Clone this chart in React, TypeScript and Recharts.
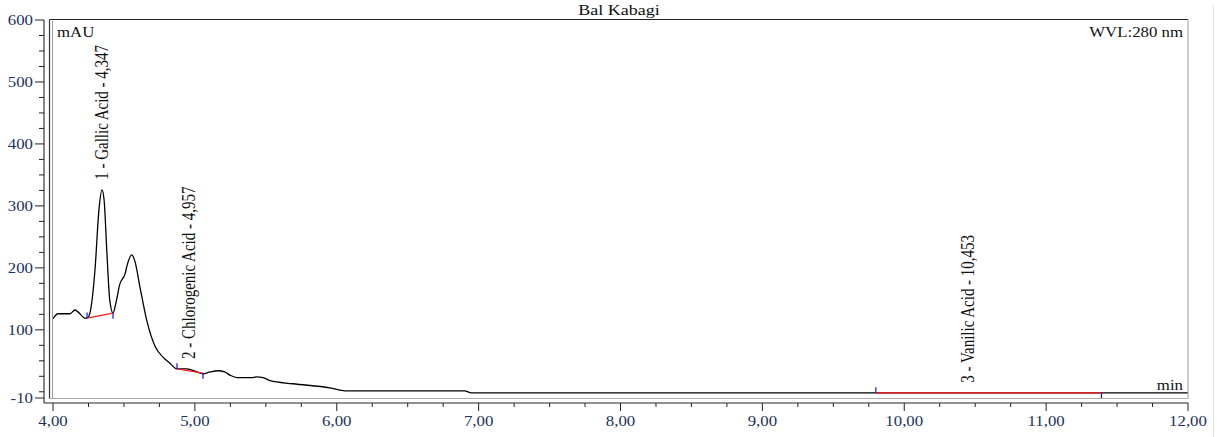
import React from 'react';
import { ComposedChart, Line, Scatter, XAxis, YAxis, ReferenceLine } from 'recharts';

// Chromatogram trace (time in min, absorbance in mAU)
const traceTime = [4.0, 4.035, 4.12, 4.155, 4.176, 4.225, 4.24, 4.26, 4.296, 4.324, 4.345, 4.36, 4.38, 4.4, 4.423, 4.444, 4.47, 4.51, 4.52, 4.556, 4.578, 4.613, 4.66, 4.72, 4.775, 4.82, 4.874, 4.944, 5.015, 5.057, 5.106, 5.163, 5.21, 5.247, 5.297, 5.41, 5.437, 5.48, 5.53, 5.69, 5.952, 6.06, 6.9, 6.95, 12.0];
const traceMAU = [118, 126, 126, 132, 129, 119, 119, 127, 197, 294, 326, 310, 224, 148, 127, 144, 173, 192, 202, 221, 210, 169, 116, 73, 56, 47, 37, 37, 32, 29, 32, 34, 32, 27, 23, 23, 24, 23, 18, 13, 6.5, 1.6, 1.6, -1.6, -1.6];

// Peak labels
const peakNames = ['1 - Gallic Acid - 4,347', '2 - Chlorogenic Acid - 4,957', '3 - Vanilic Acid - 10,453'];
const peakTimes = [4.347, 4.957, 10.453];
const peakHeights = [326, 37, -1.6];

// Integration baselines
const baseStartT = [4.24, 4.874, 9.8];
const baseStartV = [119, 37, -1.6];
const baseEndT = [4.423, 5.057, 11.39];
const baseEndV = [127, 30, -1.6];
const markLen = 9;

// Axis ticks
const xTicks = [4, 4.25, 4.5, 4.75, 5, 5.25, 5.5, 5.75, 6, 6.25, 6.5, 6.75, 7, 7.25, 7.5, 7.75, 8, 8.25, 8.5, 8.75, 9, 9.25, 9.5, 9.75, 10, 10.25, 10.5, 10.75, 11, 11.25, 11.5, 11.75, 12];
const yTicks = [-10, 0, 25, 50, 75, 100, 125, 150, 175, 200, 225, 250, 275, 300, 325, 350, 375, 400, 425, 450, 475, 500, 525, 550, 575, 600];
const yLabelled = [-10, 100, 200, 300, 400, 500, 600];

const traceData = traceTime.map((t, i) => ({ t, v: traceMAU[i] }));
const peakData = peakTimes.map((t, i) => ({ t, v: peakHeights[i], name: peakNames[i] }));
const baselineData = baseStartT.map((t, i) => [
  { t, v: baseStartV[i] },
  { t: baseEndT[i], v: baseEndV[i] },
]);

const FONT = '"Liberation Serif", "Times New Roman", serif';
const TICK_COLOR = '#1a3160';
const SX = 1.2;

const XTick = (props: any) => {
  const { x, y, payload } = props;
  const v = payload.value as number;
  const major = Math.abs(v - Math.round(v)) < 1e-6;
  return (
    <g>
      <line x1={x} x2={x} y1={y} y2={y + (major ? 8 : 4)} stroke="#222" strokeWidth={1} />
      {major && (
        <g transform={`translate(${x},${y + 23}) scale(${SX},1)`}>
          <text textAnchor="middle" fontFamily={FONT} fontSize={14} fill={TICK_COLOR}>
            {v.toFixed(2).replace('.', ',')}
          </text>
        </g>
      )}
    </g>
  );
};

const YTick = (props: any) => {
  const { x, y, payload } = props;
  const v = payload.value as number;
  const major = yLabelled.includes(v);
  return (
    <g>
      <line x1={x - (major ? 9 : 5)} x2={x} y1={y} y2={y} stroke="#222" strokeWidth={1} />
      {major && (
        <g transform={`translate(${x - 11},${y + 5}) scale(${SX},1)`}>
          <text textAnchor="end" fontFamily={FONT} fontSize={14} fill={TICK_COLOR}>
            {v}
          </text>
        </g>
      )}
    </g>
  );
};

const PeakLabel = (props: any) => {
  const { cx, cy, payload } = props;
  if (cx == null || cy == null) return <g />;
  return (
    <g transform={`translate(${cx},${cy - 10}) scale(${SX},1) rotate(-90)`}>
      <text textAnchor="start" dy="0.33em" fontFamily={FONT} fontSize={15} fill="#111">
        {payload.name}
      </text>
    </g>
  );
};

export default function App() {
  return (
    <div style={{ position: 'absolute', left: 0, top: 0, width: 1217, height: 437, background: '#fff' }}>
      <ComposedChart
        width={1217}
        height={437}
        margin={{ top: 20, right: 29, left: 0, bottom: 0 }}
      >
        <XAxis
          dataKey="t"
          type="number"
          domain={[4, 12]}
          ticks={xTicks}
          interval={0}
          allowDataOverflow
          padding={{ left: 9, right: 0 }}
          height={34}
          tickSize={0}
          tickMargin={0}
          tickLine={false}
          tick={<XTick />}
          axisLine={{ stroke: '#222' }}
        />
        <YAxis
          type="number"
          domain={[-10, 600]}
          ticks={yTicks}
          interval={0}
          allowDataOverflow
          padding={{ top: 0, bottom: 5 }}
          width={44}
          tickSize={0}
          tickMargin={0}
          tickLine={false}
          tick={<YTick />}
          axisLine={{ stroke: '#111' }}
        />
        <Line
          data={traceData}
          dataKey="v"
          type="monotone"
          stroke="#000"
          strokeWidth={1.3}
          dot={false}
          activeDot={false}
          isAnimationActive={false}
          legendType="none"
        />
        {baselineData.map((d, i) => (
          <Line
            key={'b' + i}
            data={d}
            dataKey="v"
            type="linear"
            stroke="#ff1a1a"
            strokeWidth={1.2}
            dot={false}
            activeDot={false}
            isAnimationActive={false}
            legendType="none"
          />
        ))}
        {baseStartT.map((t, i) => (
          <ReferenceLine
            key={'s' + i}
            segment={[{ x: t, y: baseStartV[i] }, { x: t, y: baseStartV[i] + markLen }]}
            stroke="#1010ff"
            strokeWidth={1.2}
            ifOverflow="visible"
          />
        ))}
        {baseEndT.map((t, i) => (
          <ReferenceLine
            key={'e' + i}
            segment={[{ x: t, y: baseEndV[i] }, { x: t, y: baseEndV[i] - markLen }]}
            stroke="#1010ff"
            strokeWidth={1.2}
            ifOverflow="visible"
          />
        ))}
        <Scatter
          data={peakData}
          dataKey="v"
          shape={<PeakLabel />}
          isAnimationActive={false}
          legendType="none"
        />
      </ComposedChart>
      <svg
        width={1217}
        height={437}
        style={{ position: 'absolute', left: 0, top: 0, pointerEvents: 'none' }}
      >
        <line x1={49.5} x2={1188} y1={19.5} y2={19.5} stroke="#222" strokeWidth={1.2} />
        <line x1={49.5} x2={49.5} y1={19.5} y2={398.5} stroke="#333" strokeWidth={1.2} />
        <line x1={52.5} x2={52.5} y1={21} y2={398.5} stroke="#999" strokeWidth={1} />
        <line x1={1188} x2={1188} y1={19.5} y2={398.5} stroke="#999" strokeWidth={1} />
        <line x1={49.5} x2={1188} y1={398.5} y2={398.5} stroke="#aaa" strokeWidth={1} />
        <line x1={1213.5} x2={1213.5} y1={5} y2={437} stroke="#e4e4e4" strokeWidth={1} />
        <g transform={`translate(619,15) scale(${SX},1)`}>
          <text textAnchor="middle" fontFamily={FONT} fontSize={15} fill="#111">Bal Kabagi</text>
        </g>
        <g transform={`translate(57,37) scale(${SX},1)`}>
          <text textAnchor="start" fontFamily={FONT} fontSize={14} fill="#111">mAU</text>
        </g>
        <g transform={`translate(1183,37) scale(${SX},1)`}>
          <text textAnchor="end" fontFamily={FONT} fontSize={14} fill="#111">WVL:280 nm</text>
        </g>
        <g transform={`translate(1183,390) scale(${SX},1)`}>
          <text textAnchor="end" fontFamily={FONT} fontSize={14} fill="#111">min</text>
        </g>
      </svg>
    </div>
  );
}
